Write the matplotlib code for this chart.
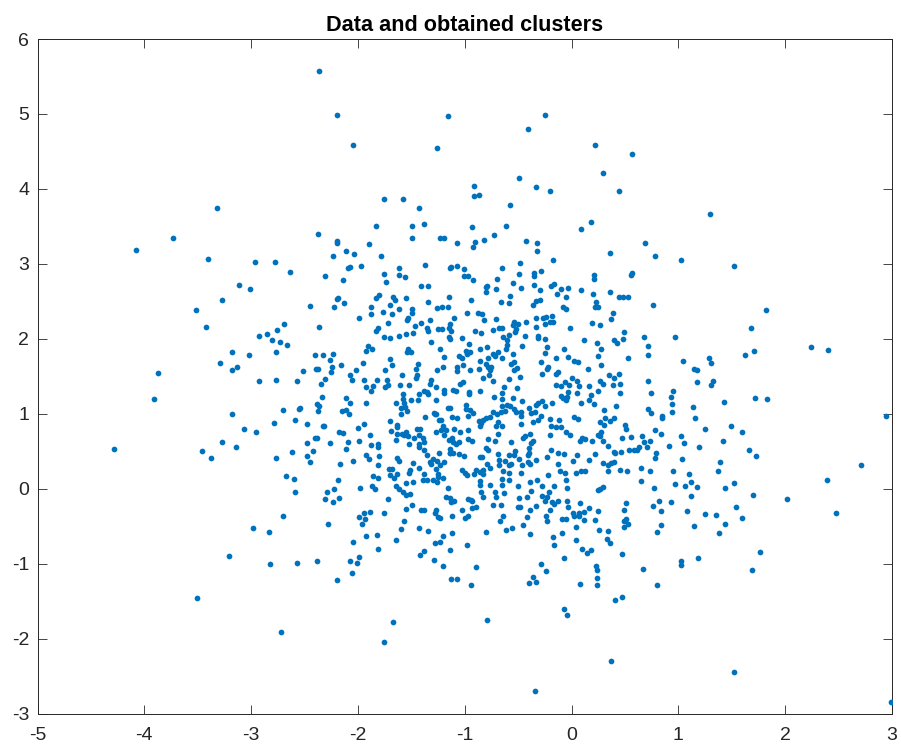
import numpy as np
import matplotlib
matplotlib.use("Agg")
import matplotlib.pyplot as plt

plt.rcParams['font.family'] = ['Liberation Sans', 'DejaVu Sans']
plt.rcParams['axes.unicode_minus'] = False

title = "Data and obtained clusters"
x_ticks = [-5, -4, -3, -2, -1, 0, 1, 2, 3]
y_ticks = [-3, -2, -1, 0, 1, 2, 3, 4, 5, 6]

# (x, y), grouped by region of the plot
top_band = [
    (-2.36,5.57),(-2.20,4.99),(-2.05,4.58),(-1.16,4.97),(-1.26,4.54),(-0.41,4.80),(-0.25,4.98),(0.22,4.59),
    (-0.49,4.14),(-0.91,4.04),(-0.91,3.91),(-0.87,3.92),(-0.33,4.02),(-0.20,3.97),(-1.76,3.87),(-1.58,3.87),
    (-1.43,3.75),(-0.58,3.79),(-1.83,3.50),(-1.49,3.51),(-1.38,3.53),(-0.93,3.49),(-0.61,3.50),(0.18,3.56),
    (0.09,3.46),(-2.37,3.40),(-2.20,3.30),(-2.20,3.28),(-1.90,3.27),(-1.49,3.35),(-1.23,3.34),(-1.19,3.34),
    (-1.07,3.28),(-0.90,3.29),(-0.92,3.23),(-0.82,3.32),(-0.73,3.38),(-0.43,3.30),(-0.32,3.28),
]
left_upper = [
    (-3.32,3.75),(-3.73,3.34),(-4.08,3.19),(-3.40,3.07),(-2.96,3.02),(-2.78,3.03),(-2.64,2.89),(-3.11,2.72),
    (-3.01,2.66),(-3.27,2.52),(-3.52,2.39),(-3.42,2.16),(-2.69,2.20),(-2.85,2.07),(-2.76,2.12),(-2.93,2.04),
    (-2.80,1.99),(-2.73,1.96),(-2.66,1.92),(-3.18,1.83),(-3.02,1.78),(-2.77,1.82),(-3.29,1.68),(-3.13,1.63),
    (-3.18,1.59),(-3.87,1.54),(-2.93,1.44),(-2.77,1.45),(-2.57,1.44),(-3.91,1.20),
]
left_lower = [
    (-3.18,1.00),(-2.70,1.05),(-2.55,1.06),(-2.59,0.92),(-2.79,0.87),(-3.07,0.80),(-2.95,0.76),(-3.27,0.62),
    (-3.14,0.55),(-3.46,0.50),(-3.38,0.41),(-4.28,0.53),(-2.62,0.49),(-2.77,0.41),(-2.67,0.17),(-2.60,0.13),
    (-2.59,-0.04),(-2.70,-0.36),(-2.98,-0.52),(-2.83,-0.58),(-3.21,-0.90),(-2.82,-1.01),(-2.57,-0.99),
    (-3.51,-1.46),(-2.72,-1.91),
]
bottom_band = [
    (-2.23,-0.18),(-1.49,-0.22),(-1.55,-0.27),(-1.41,-0.29),(-1.38,-0.29),(-1.27,-0.29),(-1.28,-0.33),(-1.25,-0.38),
    (-1.23,-0.39),(-1.12,-0.36),(-1.03,-0.28),(-1.00,-0.39),(-0.97,-0.36),(-0.93,-0.26),(-0.89,-0.25),(-1.13,-0.18),
    (-1.10,-0.17),(-0.93,-0.17),(-0.74,-0.22),(-0.66,-0.22),(-0.50,-0.24),(-0.48,-0.25),(-0.39,-0.29),(-0.33,-0.23),
    (-0.25,-0.17),(-0.18,-0.18),(-0.16,-0.21),(-0.13,-0.17),(-0.04,-0.17),(-0.03,-0.25),(0.08,-0.19),(0.16,-0.26),
    (-0.20,-0.29),(-0.24,-0.36),(-0.42,-0.38),(-0.64,-0.36),(-0.67,-0.43),(-0.23,-0.43),(-0.09,-0.40),(-0.05,-0.41),
    (0.01,-0.32),(0.02,-0.36),(0.07,-0.36),(0.07,-0.33),(0.12,-0.31),(0.12,-0.42),(0.22,-0.42),(0.25,-0.30),
    (-0.45,-0.48),(0.04,-0.51),(0.26,-0.55),(-0.56,-0.52),(-0.61,-0.55),(-0.80,-0.58),(-0.39,-0.60),(-0.09,-0.59),
    (-0.17,-0.64),(0.04,-0.69),(-0.16,-0.75),(0.10,-0.80),(0.18,-0.82),(0.14,-0.86),(-0.07,-0.92),(-0.29,-1.01),
    (-0.24,-1.10),(0.23,-1.03),(0.24,-1.09),(0.24,-1.19),(0.24,-1.29),(0.08,-1.27),(-0.36,-1.18),(-0.33,-1.25),
    (-0.40,-1.26),(-0.07,-1.61),(-0.04,-1.69),(-0.34,-2.70),(-0.79,-1.75),(-1.67,-1.78),(-1.76,-2.04),(-2.28,-0.47),
    (-1.99,-0.38),(-1.94,-0.32),(-1.89,-0.31),(-1.93,-0.40),(-1.96,-0.475),(-1.76,-0.32),(-1.57,-0.43),(-1.60,-0.54),
    (-1.43,-0.53),(-1.34,-0.57),(-1.92,-0.635),(-1.82,-0.62),(-1.64,-0.68),(-2.05,-0.71),(-1.20,-0.635),(-1.12,-0.59),
    (-1.23,-0.71),(-1.28,-0.73),(-0.98,-0.755),(-1.81,-0.81),(-1.38,-0.83),(-1.42,-0.89),(-1.14,-0.82),(-1.99,-0.91),
    (-2.07,-0.96),(-2.01,-0.99),(-2.38,-0.96),(-1.29,-0.95),(-1.20,-1.03),(-0.89,-1.05),(-2.06,-1.13),(-2.20,-1.22),
    (-1.13,-1.21),(-1.07,-1.21),(-0.94,-1.29),
]
center_upper_left = [
    (-2.23,3.10),(-2.11,3.17),(-2.04,3.13),(-1.78,3.10),(-1.37,2.99),(-1.62,2.95),(-1.97,2.97),(-2.07,2.96),
    (-2.09,2.94),(-1.76,2.87),(-1.62,2.85),(-1.56,2.83),(-2.31,2.84),(-2.14,2.78),(-1.74,2.76),(-1.41,2.71),
    (-1.34,2.71),(-1.14,2.95),(-1.80,2.59),(-1.83,2.54),(-1.67,2.56),(-1.65,2.52),(-1.55,2.55),(-2.19,2.55),
    (-2.20,2.53),(-2.13,2.48),(-2.45,2.44),(-2.22,2.42),(-1.34,2.49),(-1.70,2.45),(-1.88,2.42),(-1.62,2.40),
    (-1.26,2.41),(-1.21,2.43),(-1.16,2.42),(-1.15,2.56),(-1.49,2.40),(-1.49,2.34),(-1.77,2.36),(-1.88,2.33),
    (-1.68,2.33),(-1.99,2.28),(-1.53,2.28),(-1.54,2.25),(-1.33,2.25),(-1.41,2.21),(-1.72,2.21),(-1.47,2.17),
    (-2.36,2.16),(-1.81,2.15),(-1.83,2.10),(-1.35,2.14),(-1.34,2.10),(-1.25,2.13),(-1.21,2.13),(-1.15,2.15),
    (-1.48,2.08),(-1.55,2.06),(-1.62,2.04),(-1.76,2.03),(-1.70,2.01),(-1.15,2.03),(-1.32,1.96),(-1.91,1.91),
    (-1.87,1.87),(-1.92,1.84),(-1.53,1.87),(-1.54,1.82),(-1.50,1.83),(-1.23,1.86),(-2.405,1.79),(-2.33,1.78),
    (-2.23,1.80),(-1.19,1.76),(-2.26,1.72),(-1.70,1.73),(-1.95,1.68),(-1.44,1.67),(-1.68,1.65),(-2.16,1.65),
    (-2.24,1.63),(-2.39,1.60),(-2.37,1.60),(-2.51,1.57),(-2.25,1.56),(-2.02,1.59),(-1.75,1.59),(-1.46,1.60),
    (-1.26,1.59),(-1.20,1.63),(-2.07,1.52),(-1.59,1.52),(-1.45,1.52),
]
center_upper_right = [
    (-0.32,3.165),(-0.17,3.05),(-1.13,2.96),(-1.07,2.97),(-1.01,2.93),(-0.65,2.94),(-0.48,3.01),(-1.01,2.84),
    (-0.97,2.84),(-0.92,2.79),(-0.49,2.86),(-0.35,2.88),(-0.29,2.90),(-0.35,2.84),(0.21,2.85),(0.21,2.80),
    (-0.70,2.80),(-0.55,2.74),(-0.35,2.72),(-0.79,2.71),(-0.80,2.69),(-0.47,2.68),(-0.19,2.71),(-0.16,2.73),
    (-0.03,2.68),(-0.71,2.66),(-0.80,2.63),(-0.30,2.65),(-0.10,2.66),(0.09,2.65),(-0.14,2.60),(-0.58,2.57),
    (-0.05,2.56),(0.20,2.60),(-0.94,2.52),(-0.66,2.49),(-0.59,2.48),(-0.30,2.52),(-0.33,2.50),(-0.36,2.45),
    (0.23,2.49),(-0.08,2.43),(-0.05,2.40),(0.22,2.42),(0.25,2.42),(-0.98,2.34),(-0.88,2.34),(-0.84,2.33),
    (-0.33,2.28),(-0.27,2.28),(-0.24,2.29),(-0.18,2.31),(-1.10,2.28),(-0.82,2.25),(-0.71,2.26),(-0.43,2.23),
    (-0.54,2.22),(-0.55,2.19),(-0.50,2.20),(-0.20,2.23),(-0.17,2.23),(-0.25,2.20),(0.19,2.21),(-1.14,2.20),
    (-0.33,2.16),(-0.68,2.15),(-0.65,2.14),(-0.52,2.13),(-0.53,2.09),(-0.74,2.12),(-0.90,2.11),(-0.85,2.08),
    (-0.01,2.14),(-1.13,2.11),(-0.59,2.05),(-0.44,2.04),(-0.645,2.03),(-0.31,2.04),(-0.31,2.01),(-1.03,2.01),
    (-0.60,1.99),(-0.25,2.00),(0.12,1.98),(0.24,1.95),(-1.14,2.00),(-0.60,1.92),(-0.61,1.86),(-0.96,1.93),
    (-0.46,1.91),(-0.23,1.89),(-0.79,1.89),(-0.86,1.86),(-0.99,1.84),(-0.07,1.87),(-0.95,1.82),(-0.98,1.80),
    (-0.69,1.83),(-0.25,1.81),(-0.74,1.80),(-0.72,1.77),(-0.55,1.80),(-1.05,1.77),(-1.03,1.75),(-0.78,1.75),
    (-0.03,1.76),(-0.15,1.74),(0.25,1.77),(-0.65,1.74),(-0.86,1.71),(0.02,1.71),(0.06,1.69),(-0.29,1.69),
    (-0.54,1.69),(-0.57,1.67),(-1.02,1.65),(-0.80,1.66),(-0.22,1.63),(-0.23,1.60),(-1.07,1.63),(-0.78,1.62),
    (-0.75,1.62),(-0.76,1.59),(-0.51,1.61),(-0.54,1.59),(0.15,1.60),(-0.95,1.58),(-0.87,1.60),(-1.07,1.57),
    (-0.13,1.56),(-0.15,1.53),(-0.77,1.52),(-0.28,1.53),
]
center_lower_left = [
    (-2.31,1.465),(-2.06,1.45),(-1.94,1.45),(-1.82,1.45),(-1.73,1.45),(-1.46,1.48),(-1.32,1.45),(-2.35,1.39),
    (-1.92,1.35),(-1.86,1.37),(-1.72,1.385),(-1.75,1.36),(-1.61,1.38),(-1.52,1.38),(-1.33,1.40),(-1.27,1.35),
    (-1.19,1.32),(-1.88,1.30),(-1.38,1.30),(-1.35,1.29),(-1.34,1.26),(-1.43,1.26),(-1.19,1.27),(-1.58,1.26),
    (-2.34,1.225),(-2.11,1.21),(-1.58,1.19),(-1.50,1.18),(-1.44,1.18),(-1.27,1.18),(-2.07,1.14),(-1.92,1.14),
    (-1.64,1.14),(-1.57,1.14),(-2.38,1.13),(-2.36,1.10),(-2.54,1.07),(-2.11,1.05),(-2.15,1.03),(-1.56,1.09),
    (-1.60,1.07),(-1.54,1.04),(-2.37,1.03),(-2.08,0.99),(-1.60,0.99),(-1.29,1.01),(-1.27,1.00),(-1.28,0.99),
    (-1.16,1.08),(-1.37,0.96),(-1.70,0.90),(-1.24,0.91),(-1.22,0.91),(-2.48,0.86),(-1.94,0.86),(-2.32,0.83),
    (-2.33,0.83),(-1.63,0.85),(-1.63,0.82),(-1.20,0.83),(-2.00,0.81),(-1.45,0.79),(-1.42,0.79),(-1.22,0.78),
    (-1.18,0.78),(-1.69,0.77),(-1.27,0.75),(-2.18,0.75),(-2.14,0.74),(-1.63,0.735),(-1.59,0.73),(-1.89,0.72),
    (-1.55,0.76),(-1.53,0.70),(-1.57,0.71),(-1.43,0.72),(-1.19,0.72),(-1.475,0.67),(-1.39,0.68),(-1.64,0.655),
    (-2.40,0.68),(-2.38,0.68),(-1.38,0.62),(-1.15,0.655),(-1.99,0.63),(-2.09,0.62),(-2.26,0.61),(-2.48,0.61),
    (-1.52,0.60),(-1.43,0.59),(-1.88,0.58),(-1.81,0.60),(-1.815,0.55),(-1.43,0.56),(-2.11,0.53),(-2.42,0.50),
    (-1.38,0.51),(-1.92,0.455),(-1.24,0.48),(-1.14,0.53),(-1.14,0.47),(-1.90,0.40),(-1.80,0.44),(-1.35,0.45),
    (-2.48,0.43),(-1.63,0.415),(-1.62,0.375),(-2.05,0.375),(-2.45,0.36),(-2.17,0.335),(-1.30,0.39),(-1.33,0.35),
    (-1.26,0.375),(-1.19,0.36),(-1.48,0.34),(-1.32,0.335),(-1.23,0.31),(-1.81,0.31),(-1.71,0.26),(-1.68,0.26),
    (-1.43,0.27),(-1.27,0.26),(-1.51,0.255),(-1.52,0.215),(-1.70,0.18),(-1.63,0.20),(-1.38,0.20),(-1.25,0.19),
    (-1.86,0.17),(-1.81,0.14),(-1.66,0.14),(-1.25,0.15),(-1.20,0.14),(-1.39,0.12),(-1.35,0.12),(-1.30,0.12),
    (-1.48,0.09),(-1.55,0.08),(-1.26,0.09),(-2.19,0.12),(-1.87,0.04),(-1.64,0.04),(-1.62,0.00),(-1.16,0.01),
    (-2.22,-0.00),(-1.98,0.01),(-1.84,-0.01),(-2.29,-0.04),(-1.58,-0.04),(-1.51,-0.07),(-1.55,-0.09),(-1.18,-0.11),
    (-2.31,-0.14),(-2.18,-0.13),(-1.72,-0.14),(-1.14,-0.12),
]
center_lower_right = [
    (-0.83,1.47),(-0.48,1.49),(-0.59,1.46),(0.00,1.48),(0.05,1.43),(-1.02,1.425),(-1.04,1.39),(-0.74,1.44),
    (-0.06,1.425),(-0.15,1.38),(-0.10,1.37),(-0.02,1.385),(0.07,1.37),(0.16,1.37),(-0.63,1.35),(-0.51,1.345),
    (-1.11,1.32),(-1.08,1.30),(-0.03,1.29),(-0.96,1.29),(-0.96,1.265),(-0.86,1.30),(-0.65,1.27),(0.05,1.27),
    (0.18,1.25),(-0.10,1.23),(-0.73,1.22),(-0.65,1.20),(-0.55,1.21),(-0.08,1.21),(-0.04,1.22),(-0.05,1.18),
    (0.25,1.305),(0.16,1.18),(0.09,1.145),(0.21,1.13),(-0.46,1.17),(-0.18,1.145),(-0.28,1.17),(-0.31,1.14),
    (-0.33,1.11),(-0.25,1.10),(-0.99,1.11),(-0.60,1.11),(-0.65,1.105),(-0.58,1.105),(-0.40,1.08),(-0.54,1.06),
    (-0.99,1.06),(-1.14,1.08),(-0.95,1.05),(-0.92,1.01),(-0.62,1.04),(-0.66,1.02),(-0.74,1.02),(-0.70,0.99),
    (-0.52,1.02),(-0.47,1.02),(-0.38,1.01),(-0.34,1.02),(-0.97,0.97),(-1.12,0.96),(-1.07,0.94),(-0.76,0.95),
    (-0.80,0.94),(-0.29,0.97),(-0.31,0.92),(-0.47,0.97),(0.02,0.96),(0.06,0.93),(-0.20,0.93),(-0.12,0.92),
    (-0.87,0.90),(-0.83,0.91),(-0.85,0.87),(-0.86,0.83),(-0.69,0.89),(-0.71,0.83),(-0.65,0.84),(-0.47,0.86),
    (-0.36,0.89),(-0.19,0.83),(-0.15,0.82),(-0.10,0.82),(-1.10,0.80),(-0.97,0.78),(-1.04,0.76),(-0.69,0.73),
    (-0.05,0.76),(-0.01,0.71),(-0.20,0.72),(0.25,0.71),(-0.39,0.735),(-0.44,0.70),(-0.45,0.67),(-1.12,0.68),
    (-0.78,0.66),(-0.97,0.66),(-0.93,0.63),(-0.72,0.63),(-0.57,0.62),(-0.36,0.63),(-0.38,0.61),(0.10,0.68),
    (0.13,0.66),(0.08,0.64),(0.19,0.64),(-1.11,0.62),(-1.08,0.59),(-1.05,0.62),(-0.80,0.54),(-0.78,0.52),
    (-0.40,0.54),(-0.19,0.52),(-0.53,0.50),(-0.40,0.48),(-0.41,0.455),(-0.13,0.47),(-0.07,0.46),(0.05,0.45),
    (0.22,0.46),(-0.69,0.46),(-0.59,0.45),(-0.54,0.45),(-1.11,0.47),(-1.05,0.46),(-1.01,0.44),(-1.14,0.48),
    (-0.86,0.42),(-0.84,0.42),(-0.49,0.39),(-0.23,0.42),(-0.68,0.38),(-0.62,0.375),(-0.33,0.38),(0.16,0.38),
    (0.01,0.375),(-0.41,0.35),(-0.39,0.33),(-0.79,0.33),(-0.57,0.335),(-0.59,0.32),(-0.68,0.31),(-0.46,0.32),
    (-0.13,0.335),(-0.76,0.27),(-1.03,0.255),(-0.89,0.255),(-0.83,0.25),(-0.645,0.24),(-0.11,0.24),(0.09,0.24),
    (0.13,0.23),(-0.47,0.21),(0.04,0.21),(-0.06,0.21),(-1.00,0.21),(-0.98,0.18),(-0.86,0.22),(-0.91,0.19),
    (-0.83,0.20),(-0.59,0.21),(-0.22,0.18),(-0.39,0.09),(-0.32,0.12),(-0.05,0.11),(-0.65,0.13),(-0.59,0.11),
    (-0.86,0.10),(-0.86,0.05),(-0.65,0.05),(-0.76,0.05),(-0.50,0.04),(-0.28,0.04),(-0.16,0.03),(-0.04,0.01),
    (0.25,-0.02),(-0.85,-0.04),(-0.72,-0.04),(-0.63,-0.06),(-0.38,-0.03),(-0.21,-0.04),(-0.83,-0.11),(-0.71,-0.11),
    (-0.49,-0.12),(-0.42,-0.11),(-0.28,-0.10),(-0.23,-0.11),(-0.97,-0.14),(-0.94,-0.15),
]
right_upper = [
    (0.57,4.46),(0.29,4.21),(0.44,3.97),(1.30,3.66),(0.69,3.28),(0.36,3.14),(0.78,3.11),(1.02,3.05),
    (1.52,2.97),(0.57,2.88),(0.56,2.85),(0.36,2.63),(0.44,2.56),(0.48,2.56),(0.53,2.56),(0.76,2.45),
    (0.39,2.34),(0.37,2.26),(1.82,2.38),(0.27,2.19),(1.68,2.14),(0.49,2.09),(0.40,1.99),(0.43,1.95),
    (0.48,2.00),(0.68,2.02),(0.97,2.03),(0.72,1.91),(2.24,1.89),(2.40,1.85),(1.71,1.84),(1.62,1.79),
    (0.28,1.86),(0.72,1.79),(0.53,1.75),(1.29,1.74),(1.31,1.68),(1.04,1.71),(1.15,1.60),(1.17,1.59),
    (0.28,1.65),(0.35,1.52),(0.44,1.53),
]
right_lower = [
    (0.40,1.48),(0.27,1.43),(0.29,1.39),(0.39,1.38),(0.45,1.40),(0.72,1.43),(1.17,1.42),(1.32,1.44),
    (1.31,1.38),(0.74,1.28),(0.95,1.30),(0.45,1.27),(0.93,1.22),(1.72,1.21),(1.83,1.19),(1.43,1.16),
    (0.94,1.13),(0.42,1.10),(1.14,1.09),(0.30,1.05),(0.72,1.06),(0.74,1.01),(0.94,1.02),(2.94,0.97),
    (0.85,0.97),(0.85,0.945),(1.16,0.945),(0.40,0.94),(0.31,0.94),(0.36,0.90),(0.27,0.89),(0.30,0.85),
    (0.50,0.85),(0.51,0.80),(1.49,0.83),(1.25,0.80),(0.78,0.78),(1.60,0.75),(0.28,0.75),(0.27,0.70),
    (0.84,0.73),(1.02,0.70),(0.66,0.70),(0.56,0.69),(0.47,0.67),(0.29,0.64),(0.68,0.625),(0.73,0.64),
    (1.05,0.615),(1.42,0.63),(0.345,0.57),(0.91,0.575),(1.19,0.56),(0.71,0.55),(0.63,0.55),(0.54,0.52),
    (0.58,0.52),(0.61,0.51),(1.66,0.51),(0.395,0.49),(0.41,0.47),(0.46,0.49),(0.79,0.48),(1.73,0.44),
    (0.78,0.41),(1.03,0.39),(1.39,0.36),(0.40,0.36),(0.37,0.34),(0.345,0.31),(0.29,0.34),(2.71,0.32),
    (0.65,0.28),(0.45,0.255),(0.345,0.23),(0.52,0.24),(0.73,0.23),(0.95,0.23),(1.37,0.24),(1.10,0.19),
    (2.39,0.11),(0.65,0.10),(1.12,0.09),(1.525,0.08),(0.97,0.06),(1.06,0.03),(1.175,0.02),(1.44,0.01),
    (0.77,0.01),(0.29,0.02),(0.27,0.00),(1.70,-0.08),(1.12,-0.10),(2.02,-0.14),(0.82,-0.16),(0.935,-0.18),
    (0.51,-0.19),(0.76,-0.23),(1.54,-0.24),(0.49,-0.28),(0.84,-0.30),(1.08,-0.30),(2.48,-0.32),(1.25,-0.34),
    (1.35,-0.35),(1.60,-0.39),(0.51,-0.40),(0.495,-0.435),(0.53,-0.475),(0.49,-0.51),(0.835,-0.49),(1.44,-0.47),
    (1.15,-0.50),(0.34,-0.56),(0.80,-0.58),(1.38,-0.59),(0.33,-0.67),(0.36,-0.72),(0.47,-0.87),(1.76,-0.84),
    (1.18,-0.92),(1.02,-0.96),(1.02,-1.02),(0.67,-1.07),(1.69,-1.08),(0.80,-1.29),(0.47,-1.45),(0.41,-1.49),
    (0.37,-2.30),(1.52,-2.44),(2.99,-2.85),
]

points = np.array(top_band + left_upper + left_lower + bottom_band
                  + center_upper_left + center_upper_right
                  + center_lower_left + center_lower_right
                  + right_upper + right_lower)

fig = plt.figure(figsize=(9.01, 7.47), dpi=100)
ax = fig.add_axes([37.5 / 901, 1 - 713.5 / 747, (892 - 37.5) / 901, (713.5 - 39) / 747])

ax.scatter(points[:, 0], points[:, 1], s=17, color="#0072BD", linewidths=0, zorder=3)

ax.set_xlim(-5, 3)
ax.set_ylim(-3, 6)
ax.set_xticks(x_ticks)
ax.set_yticks(y_ticks)
ax.tick_params(direction="in", top=True, right=True, length=6.5, width=0.6,
               color="#262626", labelcolor="#262626", labelsize=14)
ax.tick_params(axis="x", pad=9.5)
ax.tick_params(axis="y", pad=6)
for spine in ax.spines.values():
    spine.set_linewidth(0.7)
    spine.set_color("#262626")

ax.set_title(title, fontsize=15.6, fontweight="bold", color="black", pad=6)

fig.savefig("out.png", dpi=100)
